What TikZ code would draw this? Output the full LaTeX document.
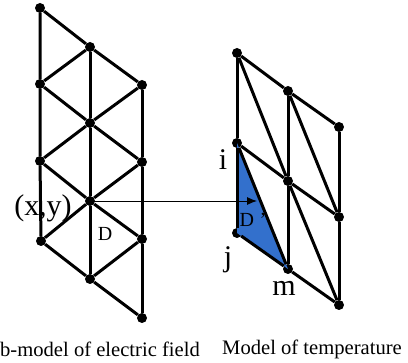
\documentclass[tikz,border=0pt]{standalone}
\usepackage{fontspec}
\setmainfont{Liberation Serif}
\usetikzlibrary{arrows.meta,positioning}

\begin{document}
\begin{tikzpicture}[
  x=1pt,y=-1pt,
  nd/.style={circle,fill=black,inner sep=0pt,minimum size=10pt},
  lbl/.style={inner sep=0pt,font=\fontsize{20}{22}\selectfont},
  big/.style={inner sep=0pt,font=\fontsize{30}{32}\selectfont},
  sm/.style={inner sep=0pt,font=\fontsize{20.6}{22}\selectfont},
  ed/.style={line width=3pt},
  ar/.style={-{Latex[length=10pt,width=8pt]},line width=0.9pt}
]
\useasboundingbox (0,0) rectangle (408,363);

% Right mesh: shaded element
\node[nd] (Ra) at (237,53) {};
\node[nd] (Rb) at (237,143) {};
\node[nd] (Rc) at (237,233) {};
\node[nd] (Rd) at (288,91) {};
\node[nd] (Re) at (288,181) {};
\node[nd] (Rf) at (288,269) {};
\node[nd] (Rg) at (339,127) {};
\node[nd] (Rh) at (339,217) {};
\node[nd] (Ri) at (339,305) {};
\fill[fill={rgb,255:red,51;green,112;blue,204}] (Rb.center)--(Rc.center)--(Rf.center)--cycle;
\draw[ed] (Ra)--(Rb)--(Rc);
\draw[ed] (Rd)--(Re)--(Rf);
\draw[ed] (Rg)--(Rh)--(Ri);
\draw[ed] (Ra)--(Rd)--(Rg);
\draw[ed] (Rb)--(Re)--(Rh);
\draw[ed] (Rc)--(Rf)--(Ri);
\draw[ed] (Ra)--(Re)--(Ri);
\draw[ed] (Rb)--(Rf);
\draw[ed] (Rd)--(Rh);

% Left mesh
\node[nd] (La) at (40,8) {};
\node[nd] (Lb) at (40,84) {};
\node[nd] (Lc) at (40,161) {};
\node[nd] (Ld) at (41,241) {};
\node[nd] (Le) at (90,47) {};
\node[nd] (Lf) at (90,123) {};
\node[nd] (Lg) at (90,201) {};
\node[nd] (Lh) at (90,279) {};
\node[nd] (Li) at (142,85) {};
\node[nd] (Lj) at (142,162) {};
\node[nd] (Lk) at (142,239) {};
\node[nd] (Ll) at (142,318) {};
\draw[ed] (La)--(Lb)--(Lc)--(Ld);
\draw[ed] (Le)--(Lf)--(Lg)--(Lh);
\draw[ed] (Li)--(Lj)--(Lk)--(Ll);
\draw[ed] (La)--(Le)--(Li);
\draw[ed] (Lb)--(Lf)--(Lj);
\draw[ed] (Lc)--(Lg)--(Lk);
\draw[ed] (Ld)--(Lh)--(Ll);
\draw[ed] (Lb)--(Le);
\draw[ed] (Lc)--(Lf)--(Li);
\draw[ed] (Ld)--(Lg)--(Lj);
\draw[ed] (Lh)--(Lk);

% Arrow between meshes
\coordinate (Dt) at (257,201);
\draw[ar] (Lg.center)--(Dt);

% Labels
\node[big] (xy) at (43,208) {(x,y)};
\node[lbl] (D) at (105,234) {D};
\node[lbl] (Dp) at (253,220) {D\;’};
\node[big] (i) at (223,160) {i};
\node[big] (j) at (228,260) {j};
\node[big] (m) at (284,288) {m};
\node[sm,anchor=west] (capl) at (0,349) {b-model of electric field};
\node[sm,anchor=west] (capr) at (222,349) {Model of temperature};
\end{tikzpicture}
\end{document}
